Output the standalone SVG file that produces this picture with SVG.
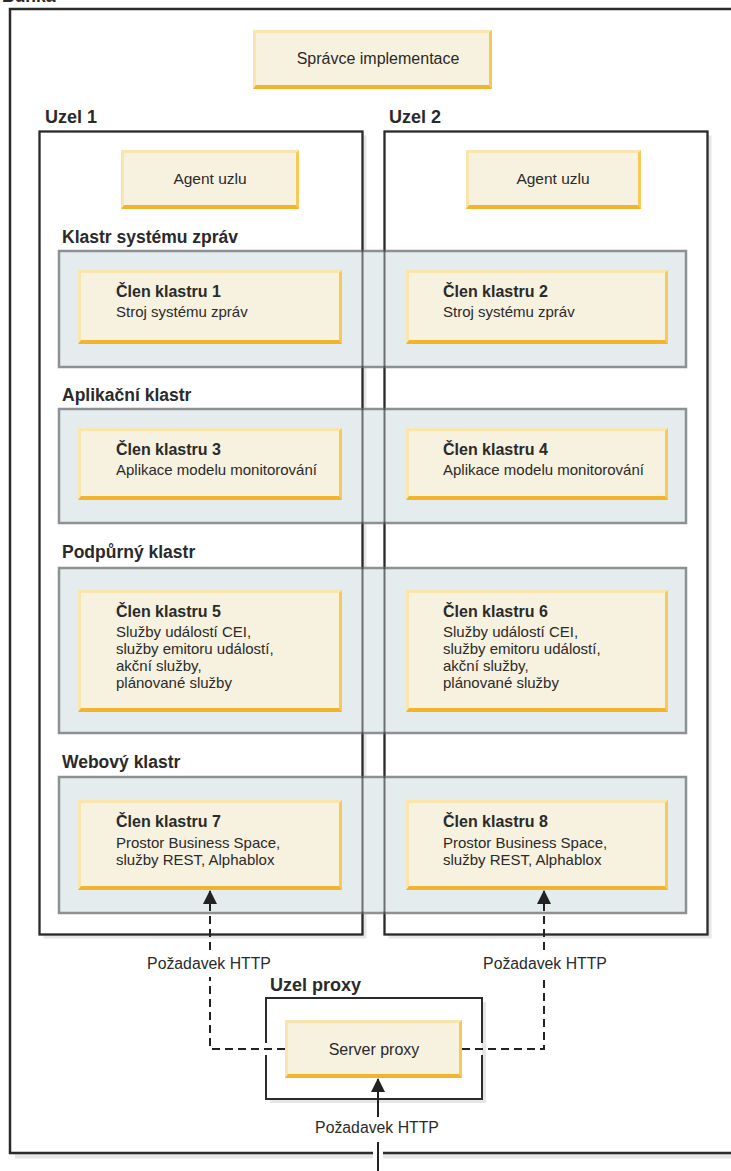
<svg xmlns="http://www.w3.org/2000/svg" width="731" height="1171" viewBox="0 0 731 1171">
<style>
text{font-family:"Liberation Sans",Arial,sans-serif;fill:#2a2a2a}
.t{font-size:15.5px;text-anchor:middle}
.tl{font-size:16px;text-anchor:middle}
.r{font-size:15.8px;text-anchor:middle}
.s{font-size:15px}
.b{font-size:16px;font-weight:bold}
.h{font-size:17.5px;font-weight:bold}
.u{font-size:18px;font-weight:bold}
.lt{fill:#f9e5ad}
.rt{fill:#f9c955}
.bt{fill:#f3b42d}
.fc{fill:#f7f1df}
.shadow{fill:#e6e6e6}
.nb{fill:#fff;stroke:#2b2b2b;stroke-width:2}
.no{fill:none;stroke:#2b2b2b;stroke-width:2;opacity:0.65}
.band{fill:#e4ecee;stroke:#8e9194;stroke-width:2.5}
.dash{fill:none;stroke:#222;stroke-width:2;stroke-dasharray:8 5}
.solid{fill:none;stroke:#222;stroke-width:2}
</style>
<defs>
<marker id="arr" viewBox="0 0 14 14" refX="13" refY="7" markerWidth="14" markerHeight="14" markerUnits="userSpaceOnUse" orient="auto">
<path d="M0,0 L14,7 L0,14 Z" fill="#222"/>
</marker>
</defs>

<g id="cell">
<text x="2" y="1.5" class="h">Buňka</text>
<path d="M15,1156 H373 M383,1156 H735" stroke="#e6e6e6" stroke-width="5" fill="none"/>
<path d="M373,1153 H10 V9 H735 M383,1153 H735" fill="none" stroke="#2b2b2b" stroke-width="2.5"/>
</g>

<g id="deployment-manager">
<rect x="253" y="30" width="239" height="59" class="lt"/>
<polygon class="rt" points="492,30 492,89 489,85 489,33"/>
<polygon class="bt" points="253,89 492,89 489,85 256,85"/>
<rect x="256" y="33" width="233" height="52" class="fc"/>
<text x="378" y="64" class="tl">Správce implementace</text>
</g>

<g id="node1-box">
<rect x="43.5" y="135.5" width="323" height="803" class="shadow"/>
<rect x="39.5" y="131.5" width="323" height="803" class="nb"/>
</g>
<g id="node2-box">
<rect x="388.5" y="135.5" width="323" height="803" class="shadow"/>
<rect x="384.5" y="131.5" width="323" height="803" class="nb"/>
</g>

<g id="cluster-messaging"><rect x="59" y="251" width="627" height="116" class="band"/></g>
<g id="cluster-application"><rect x="59" y="409" width="627" height="114" class="band"/></g>
<g id="cluster-support"><rect x="59" y="568" width="627" height="165" class="band"/></g>
<g id="cluster-web"><rect x="59" y="777" width="627" height="136" class="band"/></g>

<g id="node-outlines">
<rect x="39.5" y="131.5" width="323" height="803" class="no"/>
<rect x="384.5" y="131.5" width="323" height="803" class="no"/>
</g>

<g id="labels">
<text x="45" y="123" class="u">Uzel 1</text>
<text x="389" y="123" class="u">Uzel 2</text>
<text x="62" y="243" class="h">Klastr systému zpráv</text>
<text x="62" y="401" class="h">Aplikační klastr</text>
<text x="62" y="558" class="h">Podpůrný klastr</text>
<text x="62" y="768" class="h">Webový klastr</text>
</g>

<g id="agent1">
<rect x="121" y="150" width="178" height="59" class="lt"/>
<polygon class="rt" points="299,150 299,209 296,205 296,153"/>
<polygon class="bt" points="121,209 299,209 296,205 124,205"/>
<rect x="124" y="153" width="172" height="52" class="fc"/>
<text x="210" y="184" class="t">Agent uzlu</text>
</g>
<g id="agent2">
<rect x="466" y="150" width="175" height="59" class="lt"/>
<polygon class="rt" points="641,150 641,209 638,205 638,153"/>
<polygon class="bt" points="466,209 641,209 638,205 469,205"/>
<rect x="469" y="153" width="169" height="52" class="fc"/>
<text x="553" y="184" class="t">Agent uzlu</text>
</g>

<g id="member1">
<rect x="78" y="270" width="264" height="74" class="lt"/>
<polygon class="rt" points="342,270 342,344 339,340 339,273"/>
<polygon class="bt" points="78,344 342,344 339,340 81,340"/>
<rect x="81" y="273" width="258" height="67" class="fc"/>
<text x="116" y="297" class="b">Člen klastru 1</text>
<text x="116" y="317" class="s">Stroj systému zpráv</text>
</g>
<g id="member2">
<rect x="406" y="270" width="262" height="74" class="lt"/>
<polygon class="rt" points="668,270 668,344 665,340 665,273"/>
<polygon class="bt" points="406,344 668,344 665,340 409,340"/>
<rect x="409" y="273" width="256" height="67" class="fc"/>
<text x="443" y="297" class="b">Člen klastru 2</text>
<text x="443" y="317" class="s">Stroj systému zpráv</text>
</g>
<g id="member3">
<rect x="78" y="428" width="264" height="72" class="lt"/>
<polygon class="rt" points="342,428 342,500 339,496 339,431"/>
<polygon class="bt" points="78,500 342,500 339,496 81,496"/>
<rect x="81" y="431" width="258" height="65" class="fc"/>
<text x="116" y="455" class="b">Člen klastru 3</text>
<text x="116" y="475" class="s">Aplikace modelu monitorování</text>
</g>
<g id="member4">
<rect x="406" y="428" width="262" height="72" class="lt"/>
<polygon class="rt" points="668,428 668,500 665,496 665,431"/>
<polygon class="bt" points="406,500 668,500 665,496 409,496"/>
<rect x="409" y="431" width="256" height="65" class="fc"/>
<text x="443" y="455" class="b">Člen klastru 4</text>
<text x="443" y="475" class="s">Aplikace modelu monitorování</text>
</g>
<g id="member5">
<rect x="78" y="590" width="264" height="122" class="lt"/>
<polygon class="rt" points="342,590 342,712 339,708 339,593"/>
<polygon class="bt" points="78,712 342,712 339,708 81,708"/>
<rect x="81" y="593" width="258" height="115" class="fc"/>
<text x="116" y="617" class="b">Člen klastru 5</text>
<text x="116" y="637" class="s">Služby událostí CEI,</text>
<text x="116" y="654" class="s">služby emitoru událostí,</text>
<text x="116" y="671" class="s">akční služby,</text>
<text x="116" y="688" class="s">plánované služby</text>
</g>
<g id="member6">
<rect x="406" y="590" width="262" height="122" class="lt"/>
<polygon class="rt" points="668,590 668,712 665,708 665,593"/>
<polygon class="bt" points="406,712 668,712 665,708 409,708"/>
<rect x="409" y="593" width="256" height="115" class="fc"/>
<text x="443" y="617" class="b">Člen klastru 6</text>
<text x="443" y="637" class="s">Služby událostí CEI,</text>
<text x="443" y="654" class="s">služby emitoru událostí,</text>
<text x="443" y="671" class="s">akční služby,</text>
<text x="443" y="688" class="s">plánované služby</text>
</g>
<g id="member7">
<rect x="78" y="800" width="264" height="90" class="lt"/>
<polygon class="rt" points="342,800 342,890 339,886 339,803"/>
<polygon class="bt" points="78,890 342,890 339,886 81,886"/>
<rect x="81" y="803" width="258" height="83" class="fc"/>
<text x="116" y="827" class="b">Člen klastru 7</text>
<text x="116" y="848" class="s">Prostor Business Space,</text>
<text x="116" y="865" class="s">služby REST, Alphablox</text>
</g>
<g id="member8">
<rect x="406" y="800" width="262" height="90" class="lt"/>
<polygon class="rt" points="668,800 668,890 665,886 665,803"/>
<polygon class="bt" points="406,890 668,890 665,886 409,886"/>
<rect x="409" y="803" width="256" height="83" class="fc"/>
<text x="443" y="827" class="b">Člen klastru 8</text>
<text x="443" y="848" class="s">Prostor Business Space,</text>
<text x="443" y="865" class="s">služby REST, Alphablox</text>
</g>

<g id="proxy-node">
<text x="270" y="991" class="u">Uzel proxy</text>
<rect x="270" y="1002" width="216" height="101" class="shadow"/>
<rect x="266" y="998" width="216" height="101" fill="#fff"/>
<path d="M266,1043 V998 H482 V1043 M482,1055 V1099 H266 V1055" fill="none" stroke="#2b2b2b" stroke-width="2"/>
</g>
<g id="proxy-server">
<rect x="285" y="1020" width="177" height="58" class="lt"/>
<polygon class="rt" points="462,1020 462,1078 459,1074 459,1023"/>
<polygon class="bt" points="285,1078 462,1078 459,1074 288,1074"/>
<rect x="288" y="1023" width="171" height="51" class="fc"/>
<text x="374" y="1055" class="tl">Server proxy</text>
</g>

<g id="connectors">
<path d="M285,1049 H210 V977" class="dash"/>
<path d="M210,950 V891" class="dash" marker-end="url(#arr)"/>
<path d="M462,1049 H544 V977" class="dash"/>
<path d="M544,950 V891" class="dash" marker-end="url(#arr)"/>
<path d="M378,1171 V1142" class="solid"/>
<path d="M378,1117 V1079" class="solid" marker-end="url(#arr)"/>
<text x="209" y="969" class="r">Požadavek HTTP</text>
<text x="545" y="969" class="r">Požadavek HTTP</text>
<text x="377" y="1133" class="r">Požadavek HTTP</text>
</g>
</svg>
